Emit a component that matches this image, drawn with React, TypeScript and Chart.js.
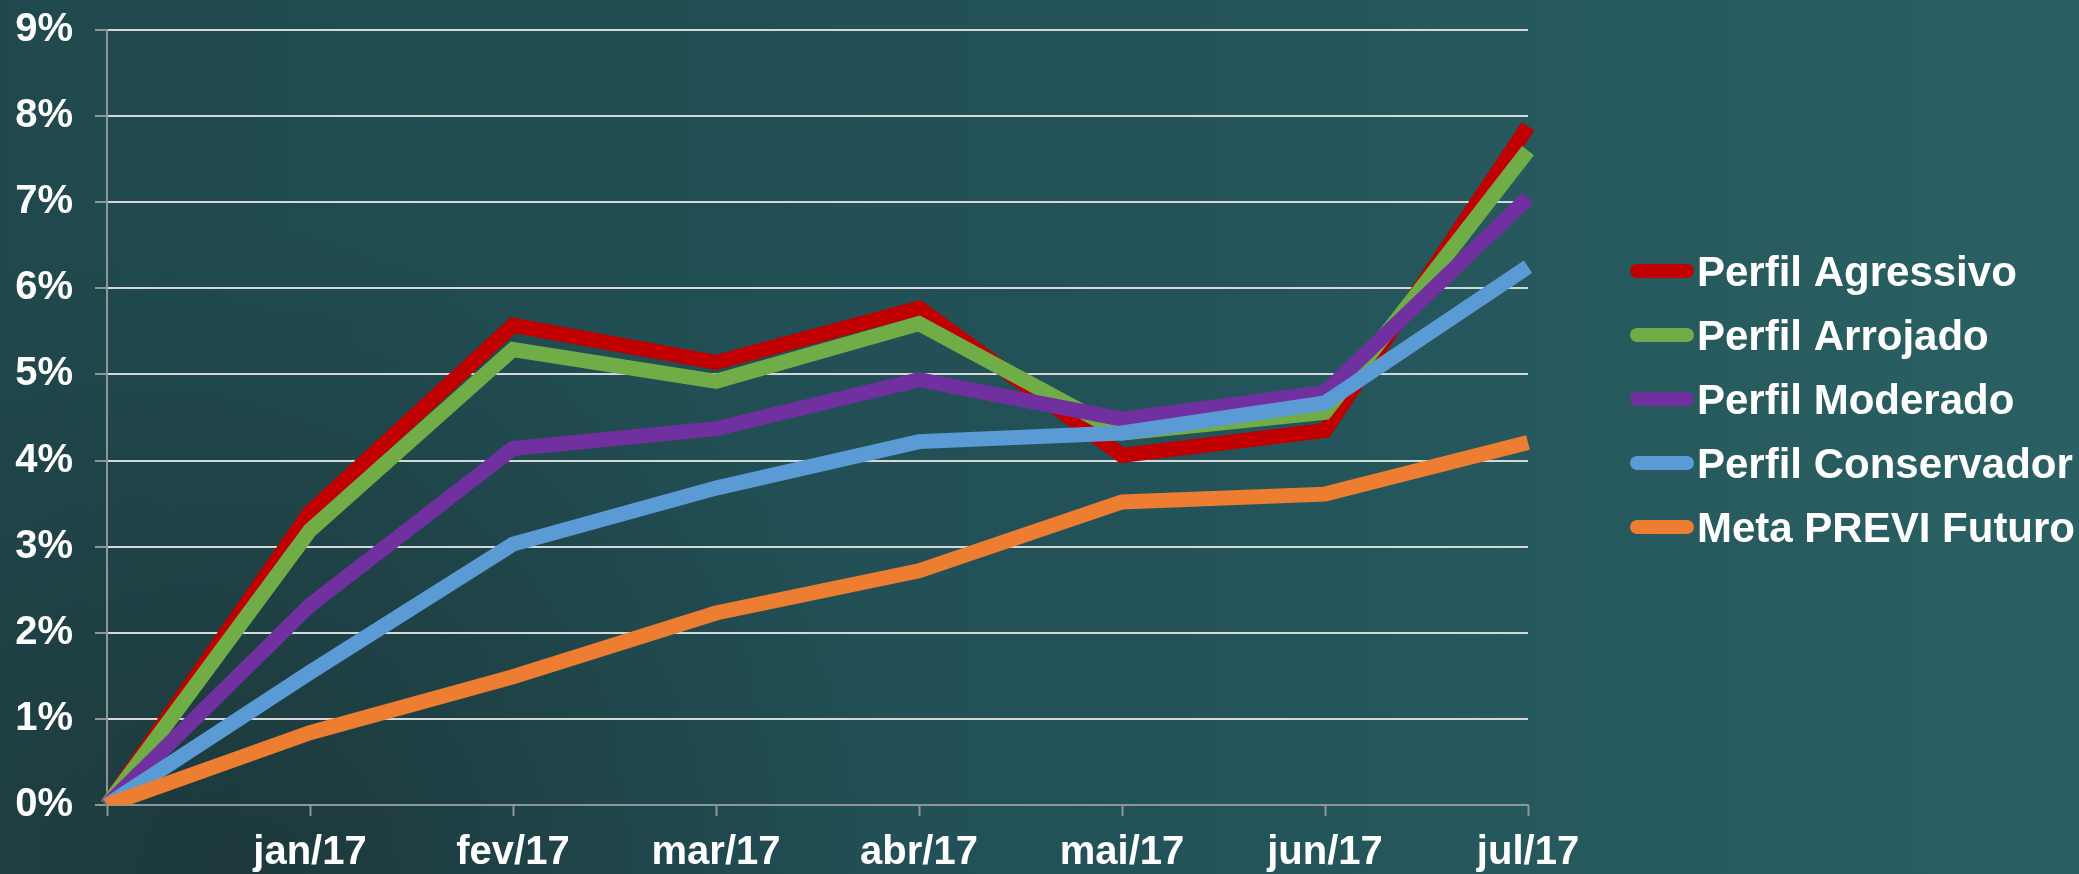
import React, { useEffect, useRef } from "react";
import { Chart, registerables } from "chart.js";

Chart.register(...registerables);

const categories = ["", "jan/17", "fev/17", "mar/17", "abr/17", "mai/17", "jun/17", "jul/17"];
const seriesNames = ["Perfil Agressivo", "Perfil Arrojado", "Perfil Moderado", "Perfil Conservador", "Meta PREVI Futuro"];
const agressivo = [0, 3.4, 5.57, 5.14, 5.77, 4.06, 4.35, 7.88];
const arrojado = [0, 3.19, 5.29, 4.92, 5.59, 4.32, 4.56, 7.6];
const moderado = [0, 2.32, 4.14, 4.37, 4.94, 4.48, 4.79, 7.05];
const conservador = [0, 1.54, 3.03, 3.68, 4.22, 4.32, 4.67, 6.25];
const metaPrevi = [0, 0.84, 1.49, 2.23, 2.72, 3.52, 3.61, 4.21];
const seriesColors = ["#c00000", "#70ad47", "#7030a0", "#5b9bd5", "#ed7d31"];
const yTicks = [0, 1, 2, 3, 4, 5, 6, 7, 8, 9];

const FONT = "'Liberation Sans', Arial, Helvetica, sans-serif";

const backgroundPlugin = {
  id: "chalkBackground",
  beforeDraw(chart: any) {
    const { ctx, width, height } = chart;
    ctx.save();
    const g = ctx.createLinearGradient(0, 0, width, 0);
    g.addColorStop(0, "#20494d");
    g.addColorStop(0.5, "#225157");
    g.addColorStop(1, "#2a6063");
    ctx.fillStyle = g;
    ctx.fillRect(0, 0, width, height);
    const r = ctx.createRadialGradient(250, height, 0, 250, height, 650);
    r.addColorStop(0, "rgba(26,42,44,0.55)");
    r.addColorStop(1, "rgba(26,42,44,0)");
    ctx.fillStyle = r;
    ctx.fillRect(0, 0, width, height);
    ctx.restore();
  },
};

const legendPlugin = {
  id: "customLegend",
  afterDraw(chart: any) {
    const { ctx } = chart;
    const datasets = chart.data.datasets;
    const boxX = chart.chartArea.right + 102;
    const boxW = 64;
    const boxH = 14;
    const firstY = 271;
    const step = 64;
    ctx.save();
    datasets.forEach((ds: any, i: number) => {
      const cy = firstY + i * step;
      ctx.fillStyle = ds.borderColor;
      ctx.beginPath();
      if (ctx.roundRect) {
        ctx.roundRect(boxX, cy - boxH / 2, boxW, boxH, boxH / 2);
      } else {
        ctx.rect(boxX, cy - boxH / 2, boxW, boxH);
      }
      ctx.fill();
      ctx.fillStyle = "#ffffff";
      ctx.font = `bold 42px ${FONT}`;
      ctx.textAlign = "left";
      ctx.textBaseline = "alphabetic";
      ctx.fillText(ds.label, boxX + boxW + 3, cy + 15);
    });
    ctx.restore();
  },
};

export default function App() {
  const canvasRef = useRef<HTMLCanvasElement | null>(null);

  useEffect(() => {
    if (!canvasRef.current) return;
    const allSeries = [agressivo, arrojado, moderado, conservador, metaPrevi];
    const chart = new Chart(canvasRef.current, {
      type: "line",
      data: {
        labels: categories,
        datasets: allSeries.map((values, i) => ({
          label: seriesNames[i],
          data: values,
          borderColor: seriesColors[i],
          backgroundColor: seriesColors[i],
          borderWidth: 15,
          pointRadius: 0,
          pointHoverRadius: 0,
          tension: 0,
          fill: false,
          borderJoinStyle: "miter" as const,
          borderCapStyle: "butt" as const,
          order: 5 - i,
        })),
      },
      options: {
        responsive: false,
        animation: false,
        events: [],
        layout: { padding: { top: 30, left: 0, right: 551, bottom: 0 } },
        plugins: {
          legend: { display: false },
          tooltip: { enabled: false },
        },
        scales: {
          x: {
            type: "category",
            offset: false,
            afterFit: (scale: any) => {
              scale.height = 69;
              scale.paddingLeft = 0;
              scale.paddingRight = 0;
            },
            grid: {
              drawOnChartArea: false,
              drawTicks: true,
              tickLength: 11,
              tickColor: "#8e9696",
              tickWidth: 2,
            },
            border: { display: true, color: "#8e9696", width: 2 },
            ticks: {
              color: "#ffffff",
              font: { family: FONT, size: 40, weight: "bold" },
              padding: 13,
              autoSkip: false,
              maxRotation: 0,
              minRotation: 0,
            },
          },
          y: {
            min: 0,
            max: 9,
            afterFit: (scale: any) => {
              scale.width = 107;
              scale.paddingTop = 0;
              scale.paddingBottom = 0;
            },
            afterBuildTicks: (scale: any) => {
              scale.ticks = yTicks.map((v) => ({ value: v }));
            },
            grid: {
              color: (c: any) => (c.tick && c.tick.value === 0 ? "#8e9696" : "#d4d8d8"),
              lineWidth: 2,
              tickLength: 12,
              tickColor: "#8e9696",
              tickWidth: 2,
            },
            border: { display: true, color: "#8e9696", width: 2 },
            ticks: {
              color: "#ffffff",
              font: { family: FONT, size: 40, weight: "bold" },
              padding: 22,
              callback: (v: any) => `${v}%`,
            },
          },
        },
      },
      plugins: [backgroundPlugin, legendPlugin],
    });
    return () => chart.destroy();
  }, []);

  return (
    <div style={{ position: "absolute", left: 0, top: 0, width: 2079, height: 874, overflow: "hidden" }}>
      <canvas ref={canvasRef} width={2079} height={874} style={{ display: "block" }} />
    </div>
  );
}
